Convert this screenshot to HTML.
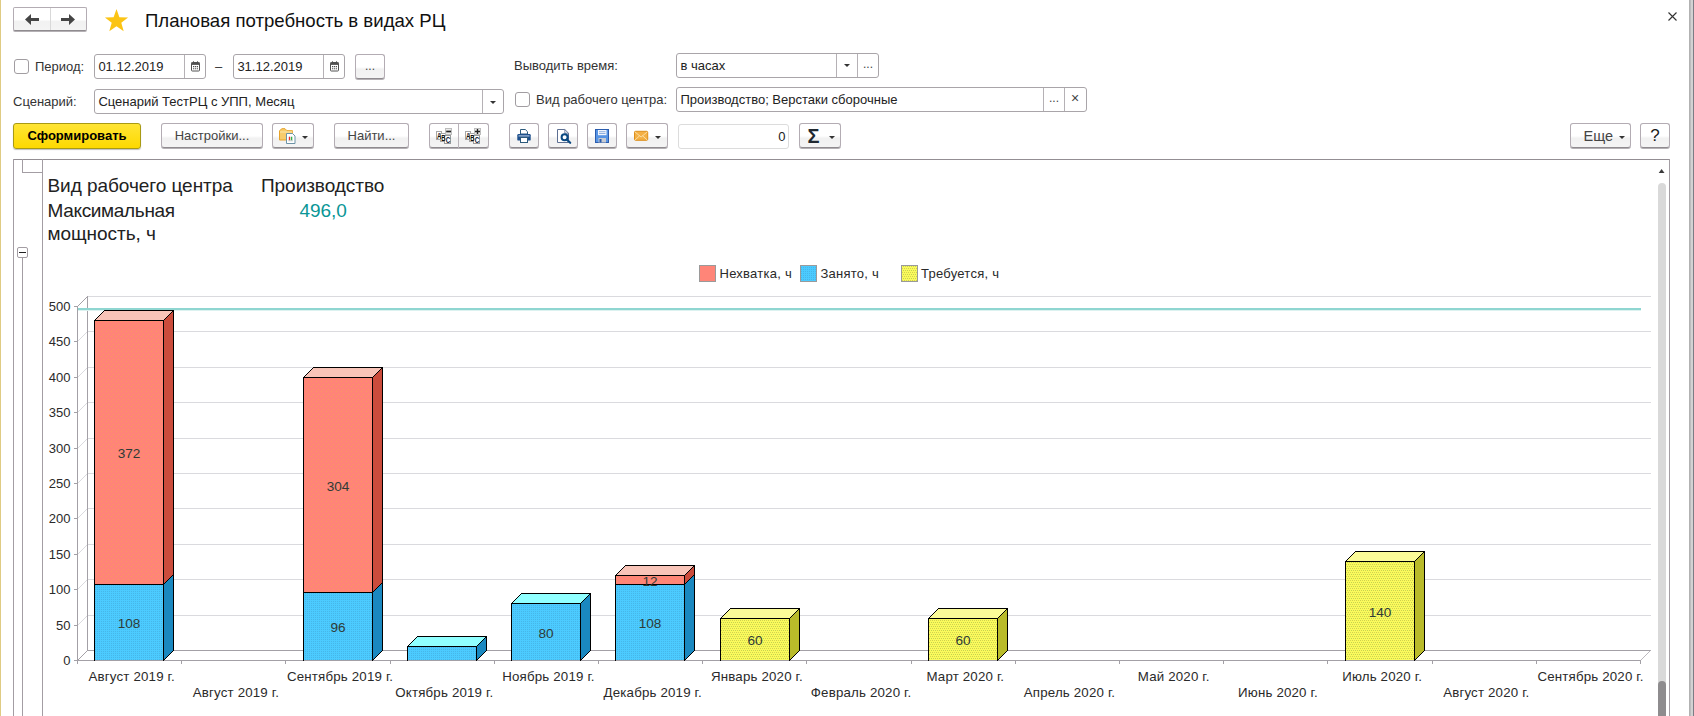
<!DOCTYPE html>
<html lang="ru"><head><meta charset="utf-8"><title>Плановая потребность в видах РЦ</title>
<style>
html,body{margin:0;padding:0;background:#fff;}
body{width:1694px;height:716px;position:relative;overflow:hidden;font-family:"Liberation Sans", sans-serif;font-size:13px;color:#333;}
.a{position:absolute;white-space:nowrap;}
.btn{position:absolute;box-sizing:border-box;height:25px;border:1px solid #b3acb3;border-bottom:1px solid #8f8b8f;box-shadow:0 1px 0 #b4b0b4;border-radius:3px;
 background:linear-gradient(#fff 0%,#fff 52%,#f1f1f1 62%,#f4f4f4 100%);color:#444;text-align:center;line-height:24px;white-space:nowrap;}
.inp{position:absolute;box-sizing:border-box;height:24px;border:1px solid #a9a5a9;border-radius:3px;background:#fff;line-height:22px;padding-left:3.4px;color:#222;white-space:nowrap;}
.dv{position:absolute;top:0;bottom:0;width:1px;background:#b5b1b5;}
.cb{position:absolute;box-sizing:border-box;width:15px;height:15px;border:1px solid #a19da1;border-radius:3px;background:#fff;}
.lbl{position:absolute;white-space:nowrap;color:#333;line-height:16px;}
.tri{position:absolute;width:0;height:0;border-left:3px solid transparent;border-right:3px solid transparent;border-top:3.4px solid #333;}
svg text{font-family:"Liberation Sans", sans-serif;}
.yl,.cl,.lg{font-size:13px;fill:#2a2a2a;}
.lg{letter-spacing:0.25px;}
.cl{font-size:13.3px;letter-spacing:0.17px;}
.dl{font-size:13.6px;fill:#2e3a36;}
.hd{position:absolute;font-size:19px;line-height:24px;color:#222;white-space:nowrap;letter-spacing:-0.05px;}
</style></head><body>
<!-- window edges -->
<div class="a" style="left:0;top:0;width:1px;height:716px;background:#dfcb83;"></div>
<div class="a" style="left:1689px;top:0;width:5px;height:716px;background:#d2d2d2;"></div>
<div class="a" style="left:1689px;top:0;width:1px;height:716px;background:#b2b2b2;"></div>
<div class="a" style="left:1690px;top:0;width:1px;height:716px;background:#bcbcbe;"></div>
<div class="a" style="left:1693px;top:0;width:1px;height:716px;background:#7c7c84;"></div>

<!-- nav buttons -->
<div class="btn" style="left:13px;top:7px;width:74px;height:24px;border-radius:2px;"></div>
<div class="a" style="left:50px;top:8px;width:1px;height:22px;background:#d8d8d8;"></div>
<svg class="a" style="left:0px;top:0px" width="100" height="40" viewBox="0 0 100 40">
 <path d="M25 19.5L31 14V18H39V21H31V25Z" fill="#454545"/>
 <path d="M75 19.5L69 14V18H61V21H69V25Z" fill="#454545"/>
</svg>
<!-- star -->
<svg class="a" style="left:0px;top:0px" width="140" height="40" viewBox="0 0 140 40">
 <polygon points="116.5,9.1 119.4,17.3 128.1,17.5 121.3,22.8 123.7,31.2 116.5,26.3 109.3,31.2 111.7,22.8 104.9,17.5 113.6,17.3" fill="#fbc414"/>
</svg>
<div class="a" style="left:145px;top:9px;font-size:18.6px;line-height:24px;color:#111;">Плановая потребность в видах РЦ</div>
<svg class="a" style="left:1668px;top:12px" width="9" height="9" viewBox="0 0 9 9"><path d="M0.5 0.5L8.5 8.5M8.5 0.5L0.5 8.5" stroke="#333" stroke-width="1.1" fill="none"/></svg>

<!-- row 1 -->
<div class="cb" style="left:14px;top:59px;"></div>
<div class="lbl" style="left:35px;top:59px;">Период:</div>
<div class="inp" style="left:94px;top:54px;width:112px;height:25px;line-height:23px;">01.12.2019<div class="dv" style="left:89px"></div>
 <svg class="a" style="left:95.5px;top:6px" width="9" height="11" viewBox="0 0 9 11"><rect x="0.5" y="1.5" width="8" height="8.5" rx="0.8" fill="#fff" stroke="#505050"/><rect x="0.5" y="1.5" width="8" height="2.4" fill="#505050"/><path d="M2.5 0.3v1.500M6.500 0.3v1.500" stroke="#505050"/><path d="M2 5.600h1.200M3.900 5.600h1.200M5.800 5.600h1.200M2 7.700h1.200M3.900 7.700h1.200M5.800 7.700h1.200" stroke="#505050" stroke-width="1.100"/></svg>
</div>
<div class="lbl" style="left:215px;top:59px;">–</div>
<div class="inp" style="left:233px;top:54px;width:112px;height:25px;line-height:23px;">31.12.2019<div class="dv" style="left:89px"></div>
 <svg class="a" style="left:95.5px;top:6px" width="9" height="11" viewBox="0 0 9 11"><rect x="0.5" y="1.5" width="8" height="8.5" rx="0.8" fill="#fff" stroke="#505050"/><rect x="0.5" y="1.5" width="8" height="2.4" fill="#505050"/><path d="M2.5 0.3v1.500M6.500 0.3v1.500" stroke="#505050"/><path d="M2 5.600h1.200M3.900 5.600h1.200M5.800 5.600h1.200M2 7.700h1.200M3.900 7.700h1.200M5.800 7.700h1.200" stroke="#505050" stroke-width="1.100"/></svg>
</div>
<div class="btn" style="left:355px;top:53.5px;width:30px;height:25px;line-height:22px;font-size:12px;">...</div>
<div class="lbl" style="left:514px;top:58px;">Выводить время:</div>
<div class="inp" style="left:676px;top:53px;width:203px;height:25px;line-height:23px;">в часах<div class="dv" style="left:159px"></div><div class="dv" style="left:180px"></div>
 <div class="tri" style="left:166.5px;top:10px;border-left-width:3px;border-right-width:3px;border-top-width:3.5px;"></div>
 <div class="a" style="left:186px;top:-1px;font-size:12px;color:#444;">...</div>
</div>

<!-- row 2 -->
<div class="lbl" style="left:13px;top:94px;">Сценарий:</div>
<div class="inp" style="left:94px;top:89px;width:410px;height:25px;line-height:23px;">Сценарий ТестРЦ с УПП, Месяц<div class="dv" style="left:387px"></div>
 <div class="tri" style="left:395px;top:11px;border-left-width:3px;border-right-width:3px;border-top-width:3.5px;"></div>
</div>
<div class="cb" style="left:515px;top:92px;"></div>
<div class="lbl" style="left:536px;top:92px;">Вид рабочего центра:</div>
<div class="inp" style="left:676px;top:87px;width:411px;height:25px;line-height:23px;">Производство; Верстаки сборочные<div class="dv" style="left:366px"></div><div class="dv" style="left:387px"></div>
 <div class="a" style="left:372px;top:-1px;font-size:12px;color:#444;">...</div>
 <div class="a" style="left:394px;top:-1px;font-size:14px;color:#444;">×</div>
</div>

<!-- row 3 toolbar -->
<div class="btn" style="left:13px;top:123px;width:128px;height:26px;border:1px solid #a89a14;border-radius:3px;background:linear-gradient(#ffe535,#fdd900);color:#000;font-weight:bold;line-height:24px;box-shadow:0 1px 1px rgba(0,0,0,.25);">Сформировать</div>
<div class="btn" style="left:161px;top:123px;width:102px;">Настройки...</div>
<div class="btn" style="left:272px;top:123px;width:42px;"></div>
<div class="btn" style="left:334px;top:123px;width:75px;">Найти...</div>
<div class="btn" style="left:429px;top:123px;width:60px;"></div>
<div class="a" style="left:458px;top:124px;width:1px;height:24px;background:#b9b3b9;"></div>
<div class="btn" style="left:509px;top:123px;width:30px;"></div>
<div class="btn" style="left:548px;top:123px;width:30px;"></div>
<div class="btn" style="left:587px;top:123px;width:30px;"></div>
<div class="btn" style="left:626px;top:123px;width:42px;"></div>
<div class="inp" style="left:678px;top:124px;width:111px;height:25px;border-color:#dcdcdc;text-align:right;padding-right:2.5px;line-height:24px;">0</div>
<div class="btn" style="left:799px;top:123px;width:42px;"></div>
<div class="btn" style="left:1570px;top:123px;width:61px;font-size:14.5px;text-align:left;padding-left:12.6px;line-height:24px;">Еще</div>
<div class="btn" style="left:1640px;top:123px;width:30px;font-size:17px;color:#1a1a1a;line-height:24px;">?</div>
<div class="tri" style="left:301.6px;top:135.7px;"></div>
<div class="tri" style="left:655.4px;top:135.7px;"></div>
<div class="tri" style="left:828.7px;top:135.7px;"></div>
<div class="tri" style="left:1619px;top:135.7px;"></div>

<!-- toolbar icons -->
<svg class="a" style="left:0;top:0" width="1694" height="160" viewBox="0 0 1694 160">
<!-- folder with report -->
<path d="M279.500 140v-9.300l2.500-2h3l2 2h5.500v9.300z" fill="#f8cc6c" stroke="#e6a228" stroke-width="1"/>
<path d="M280 132h12.500" stroke="#fbe3a4" stroke-width="1.200"/>
<path d="M286.500 133.500h6l2.500 2.500v7.500h-8.500z" fill="#fff" stroke="#6c93a6" stroke-width="1"/>
<path d="M289.500 140.300v-3.600" stroke="#e8302c" stroke-width="1.400"/>
<path d="M291.600 140.300v-3.600" stroke="#34b24a" stroke-width="1.400"/>
<path d="M288.300 140.800h4.600" stroke="#9aa" stroke-width="0.6"/>
<g>
 <rect x="436.5" y="131.500" width="5" height="8" fill="#fff" stroke="#a6a6a6" stroke-width="1"/>
 <rect x="440.5" y="133.500" width="5" height="8" fill="#fff" stroke="#a6a6a6" stroke-width="1"/>
 <rect x="444.5" y="135.500" width="6" height="8" fill="#fff" stroke="#9a9a9a" stroke-width="1"/>
 <rect x="445.5" y="128.500" width="6" height="6" fill="#ececec" stroke="#bdbdbd" stroke-width="1"/>
 <text x="436.9" y="139" font-size="9.2" font-weight="bold" fill="#111" textLength="4.300" lengthAdjust="spacingAndGlyphs">A</text>
 <text x="441.2" y="141" font-size="9.2" font-weight="bold" fill="#111" textLength="4.300" lengthAdjust="spacingAndGlyphs">B</text>
 <text x="445.7" y="143" font-size="9.2" font-weight="bold" fill="#0c1230" textLength="4.500" lengthAdjust="spacingAndGlyphs">C</text>
 <path d="M446.2 131.500h4.800" stroke="#222" stroke-width="1.700" fill="none"/>
</g>
<g>
 <rect x="465.5" y="131.500" width="5" height="8" fill="#fff" stroke="#a6a6a6" stroke-width="1"/>
 <rect x="469.5" y="133.500" width="5" height="8" fill="#fff" stroke="#a6a6a6" stroke-width="1"/>
 <rect x="473.5" y="135.500" width="6" height="8" fill="#fff" stroke="#9a9a9a" stroke-width="1"/>
 <rect x="474.5" y="128.500" width="6" height="6" fill="#ececec" stroke="#bdbdbd" stroke-width="1"/>
 <text x="465.9" y="139" font-size="9.2" font-weight="bold" fill="#111" textLength="4.300" lengthAdjust="spacingAndGlyphs">A</text>
 <text x="470.2" y="141" font-size="9.2" font-weight="bold" fill="#111" textLength="4.300" lengthAdjust="spacingAndGlyphs">B</text>
 <text x="474.7" y="143" font-size="9.2" font-weight="bold" fill="#0c1230" textLength="4.500" lengthAdjust="spacingAndGlyphs">C</text>
 <path d="M475 131.500h5M477.5 129v5" stroke="#222" stroke-width="1.400" fill="none"/>
</g>

<!-- printer -->
<path d="M520.500 134v-4.500h4.800l2.200 2.200v2.300z" fill="#fff" stroke="#2c5a7c" stroke-width="1"/>
<rect x="517.300" y="134" width="13.400" height="6.600" rx="1.200" fill="#1d4f8c"/>
<rect x="518.500" y="135.300" width="11" height="1.200" fill="#a9c0dc"/>
<rect x="520.500" y="137.500" width="7" height="5" fill="#fff" stroke="#2c5a7c" stroke-width="1"/>
<!-- preview -->
<path d="M557.500 129.500h7.300l3.700 3.700v9.300h-11z" fill="#fff" stroke="#5d6f92" stroke-width="1"/>
<path d="M564.800 129.500v3.700h3.700" fill="none" stroke="#5d6f92" stroke-width="0.8"/>
<circle cx="564.600" cy="137.200" r="3" fill="#fff" stroke="#0b4a82" stroke-width="2"/>
<path d="M566.800 139.600l3.400 3.200" stroke="#0b4a82" stroke-width="2.200" stroke-linecap="round"/>
<!-- save -->
<rect x="595.500" y="129.500" width="13" height="13" fill="#5794e4" stroke="#2b5cad" stroke-width="1"/>
<rect x="598" y="130" width="8.500" height="5.200" fill="#f2f6fc"/>
<path d="M599 131.700h6.500M599 133.500h6.500" stroke="#86a8dc" stroke-width="0.9"/>
<rect x="598.500" y="138" width="7.500" height="4.500" fill="#c9ccd2"/>
<rect x="599.500" y="139" width="2" height="3.500" fill="#2b5cad"/>
<!-- mail -->
<rect x="634.500" y="131.300" width="13.200" height="9" rx="1" fill="#f4b044" stroke="#dc8f1c" stroke-width="1"/>
<path d="M635 132l6.100 5l6.100-5M635 140l4.700-4.300M647.200 140l-4.700-4.300" fill="none" stroke="#fbe2ae" stroke-width="0.9"/>
</svg>
<div class="a" style="left:807.500px;top:124px;font-size:20px;line-height:24px;color:#202830;font-weight:bold;">Σ</div>

<!-- report frame -->
<div class="a" style="left:13px;top:159px;width:1657px;height:1px;background:#938e93;"></div>
<div class="a" style="left:13px;top:159px;width:1px;height:560px;background:#a39da3;"></div>
<div class="a" style="left:1669px;top:159px;width:1px;height:560px;background:#a39da3;"></div>
<div class="a" style="left:22px;top:159px;width:1px;height:14px;background:#a39da3;"></div>
<div class="a" style="left:22px;top:172px;width:21px;height:1px;background:#a39da3;"></div>
<div class="a" style="left:42px;top:159px;width:1px;height:560px;background:#a39da3;"></div>
<div class="a" style="left:22px;top:257px;width:1px;height:460px;background:#a39da3;"></div>
<div class="a" style="left:17px;top:247px;width:11px;height:11px;box-sizing:border-box;border:1px solid #a39da3;border-radius:2px;background:#fff;"></div>
<div class="a" style="left:19px;top:251.500px;width:7px;height:1.500px;background:#222;"></div>

<!-- scrollbar -->
<svg class="a" style="left:1657px;top:166px" width="10" height="9" viewBox="0 0 10 9"><path d="M1.700 7L4.600 2.900L7.500 7z" fill="#3a3a3a"/></svg>
<div class="a" style="left:1658px;top:183px;width:8px;height:540px;border-radius:4px;background:#d9d9d9;"></div>
<div class="a" style="left:1658px;top:681px;width:8px;height:60px;border-radius:4px;background:#8e8c8e;"></div>

<!-- header text -->
<div class="hd" style="left:47.500px;top:173.7px;">Вид рабочего центра</div>
<div class="hd" style="left:47.500px;top:199px;letter-spacing:-0.33px;">Максимальная</div>
<div class="hd" style="left:47.500px;top:222.2px;">мощность, ч</div>
<div class="hd" style="left:261px;top:173.7px;">Производство</div>
<div class="hd" style="left:299.500px;top:199px;color:#0a9696;">496,0</div>

<!-- chart -->
<svg class="a" style="left:0;top:0" width="1694" height="716" viewBox="0 0 1694 716" shape-rendering="crispEdges">
<defs>
<pattern id="pb" width="2" height="2" patternUnits="userSpaceOnUse"><rect width="2" height="2" fill="#4ccbff"/><rect x="1" y="1" width="1" height="1" fill="#46b6e8"/></pattern>
<pattern id="pr" width="5" height="5" patternUnits="userSpaceOnUse"><rect width="5" height="5" fill="#ff8478"/><rect x="1" y="1" width="1" height="1" fill="#f79a5e"/><rect x="3" y="4" width="1" height="1" fill="#f79a5e"/></pattern>
<pattern id="py" width="4" height="4" patternUnits="userSpaceOnUse"><rect width="4" height="4" fill="#fafa5c"/><rect x="0" y="0" width="1" height="1" fill="#cfcf4e"/><rect x="2" y="0" width="1" height="1" fill="#d6d650"/><rect x="1" y="2" width="1" height="1" fill="#cfcf4e"/><rect x="3" y="2" width="1" height="1" fill="#bfd352"/></pattern>
</defs>
<line x1="77.5" y1="660.5" x2="87.5" y2="650.5" stroke="#a3a0a6" shape-rendering="auto"/>
<line x1="87.0" y1="650.5" x2="1651.0" y2="650.5" stroke="#a3a0a6"/>
<line x1="74.0" y1="660.5" x2="78.0" y2="660.5" stroke="#a3a0a6"/>
<text x="70.5" y="664.8" text-anchor="end" class="yl">0</text>
<line x1="77.5" y1="625.5" x2="87.5" y2="615.5" stroke="#dadade" shape-rendering="auto"/>
<line x1="87.0" y1="615.5" x2="1651.0" y2="615.5" stroke="#dadade"/>
<line x1="74.0" y1="625.5" x2="78.0" y2="625.5" stroke="#a3a0a6"/>
<text x="70.5" y="629.8" text-anchor="end" class="yl">50</text>
<line x1="77.5" y1="589.5" x2="87.5" y2="579.5" stroke="#dadade" shape-rendering="auto"/>
<line x1="87.0" y1="579.5" x2="1651.0" y2="579.5" stroke="#dadade"/>
<line x1="74.0" y1="589.5" x2="78.0" y2="589.5" stroke="#a3a0a6"/>
<text x="70.5" y="593.8" text-anchor="end" class="yl">100</text>
<line x1="77.5" y1="554.5" x2="87.5" y2="544.5" stroke="#dadade" shape-rendering="auto"/>
<line x1="87.0" y1="544.5" x2="1651.0" y2="544.5" stroke="#dadade"/>
<line x1="74.0" y1="554.5" x2="78.0" y2="554.5" stroke="#a3a0a6"/>
<text x="70.5" y="558.8" text-anchor="end" class="yl">150</text>
<line x1="77.5" y1="518.5" x2="87.5" y2="508.5" stroke="#dadade" shape-rendering="auto"/>
<line x1="87.0" y1="508.5" x2="1651.0" y2="508.5" stroke="#dadade"/>
<line x1="74.0" y1="518.5" x2="78.0" y2="518.5" stroke="#a3a0a6"/>
<text x="70.5" y="522.8" text-anchor="end" class="yl">200</text>
<line x1="77.5" y1="483.5" x2="87.5" y2="473.5" stroke="#dadade" shape-rendering="auto"/>
<line x1="87.0" y1="473.5" x2="1651.0" y2="473.5" stroke="#dadade"/>
<line x1="74.0" y1="483.5" x2="78.0" y2="483.5" stroke="#a3a0a6"/>
<text x="70.5" y="487.8" text-anchor="end" class="yl">250</text>
<line x1="77.5" y1="448.5" x2="87.5" y2="438.5" stroke="#dadade" shape-rendering="auto"/>
<line x1="87.0" y1="438.5" x2="1651.0" y2="438.5" stroke="#dadade"/>
<line x1="74.0" y1="448.5" x2="78.0" y2="448.5" stroke="#a3a0a6"/>
<text x="70.5" y="452.8" text-anchor="end" class="yl">300</text>
<line x1="77.5" y1="412.5" x2="87.5" y2="402.5" stroke="#dadade" shape-rendering="auto"/>
<line x1="87.0" y1="402.5" x2="1651.0" y2="402.5" stroke="#dadade"/>
<line x1="74.0" y1="412.5" x2="78.0" y2="412.5" stroke="#a3a0a6"/>
<text x="70.5" y="416.8" text-anchor="end" class="yl">350</text>
<line x1="77.5" y1="377.5" x2="87.5" y2="367.5" stroke="#dadade" shape-rendering="auto"/>
<line x1="87.0" y1="367.5" x2="1651.0" y2="367.5" stroke="#dadade"/>
<line x1="74.0" y1="377.5" x2="78.0" y2="377.5" stroke="#a3a0a6"/>
<text x="70.5" y="381.8" text-anchor="end" class="yl">400</text>
<line x1="77.5" y1="341.5" x2="87.5" y2="331.5" stroke="#dadade" shape-rendering="auto"/>
<line x1="87.0" y1="331.5" x2="1651.0" y2="331.5" stroke="#dadade"/>
<line x1="74.0" y1="341.5" x2="78.0" y2="341.5" stroke="#a3a0a6"/>
<text x="70.5" y="345.8" text-anchor="end" class="yl">450</text>
<line x1="77.5" y1="306.5" x2="87.5" y2="296.5" stroke="#a3a0a6" shape-rendering="auto"/>
<line x1="87.0" y1="296.5" x2="1651.0" y2="296.5" stroke="#dadade"/>
<line x1="74.0" y1="306.5" x2="78.0" y2="306.5" stroke="#a3a0a6"/>
<text x="70.5" y="310.8" text-anchor="end" class="yl">500</text>
<line x1="87.5" y1="296.0" x2="87.5" y2="651.0" stroke="#a3a0a6"/>
<line x1="77.5" y1="306.0" x2="77.5" y2="664.0" stroke="#a3a0a6"/>
<line x1="74.0" y1="660.5" x2="1641.0" y2="660.5" stroke="#a3a0a6"/>
<line x1="1640.5" y1="660.5" x2="1650.5" y2="650.5" stroke="#bcb9be" shape-rendering="auto"/>
<line x1="77.5" y1="660.0" x2="77.5" y2="664.0" stroke="#a3a0a6"/>
<line x1="181.5" y1="660.0" x2="181.5" y2="664.0" stroke="#a3a0a6"/>
<line x1="285.5" y1="660.0" x2="285.5" y2="664.0" stroke="#a3a0a6"/>
<line x1="390.5" y1="660.0" x2="390.5" y2="664.0" stroke="#a3a0a6"/>
<line x1="494.5" y1="660.0" x2="494.5" y2="664.0" stroke="#a3a0a6"/>
<line x1="598.5" y1="660.0" x2="598.5" y2="664.0" stroke="#a3a0a6"/>
<line x1="702.5" y1="660.0" x2="702.5" y2="664.0" stroke="#a3a0a6"/>
<line x1="806.5" y1="660.0" x2="806.5" y2="664.0" stroke="#a3a0a6"/>
<line x1="911.5" y1="660.0" x2="911.5" y2="664.0" stroke="#a3a0a6"/>
<line x1="1015.5" y1="660.0" x2="1015.5" y2="664.0" stroke="#a3a0a6"/>
<line x1="1119.5" y1="660.0" x2="1119.5" y2="664.0" stroke="#a3a0a6"/>
<line x1="1223.5" y1="660.0" x2="1223.5" y2="664.0" stroke="#a3a0a6"/>
<line x1="1327.5" y1="660.0" x2="1327.5" y2="664.0" stroke="#a3a0a6"/>
<line x1="1432.5" y1="660.0" x2="1432.5" y2="664.0" stroke="#a3a0a6"/>
<line x1="1536.5" y1="660.0" x2="1536.5" y2="664.0" stroke="#a3a0a6"/>
<line x1="1640.5" y1="660.0" x2="1640.5" y2="664.0" stroke="#a3a0a6"/>
<rect x="78.0" y="308" width="1563.0" height="2" fill="#8fd6d1"/>
<rect x="78.0" y="310" width="1563.0" height="1" fill="#dcf2f0"/>
<polygon points="163.5,584.5 173.5,574.5 173.5,650.5 163.5,660.5" fill="#1a88c0" stroke="#000" stroke-width="1" shape-rendering="crispEdges" stroke-linejoin="round"/>
<rect x="94.5" y="584.5" width="69.0" height="76" fill="url(#pb)" stroke="#000"/>
<text x="129.0" y="628.0" text-anchor="middle" class="dl">108</text>
<polygon points="163.5,320.5 173.5,310.5 173.5,574.5 163.5,584.5" fill="#cb4c3c" stroke="#000" stroke-width="1" shape-rendering="crispEdges" stroke-linejoin="round"/>
<rect x="94.5" y="320.5" width="69.0" height="264" fill="url(#pr)" stroke="#000"/>
<polygon points="94.5,320.5 104.5,310.5 173.5,310.5 163.5,320.5" fill="#f8c4b8" stroke="#000" stroke-width="1" shape-rendering="crispEdges" stroke-linejoin="round"/>
<text x="129.0" y="458.0" text-anchor="middle" class="dl">372</text>
<line x1="95" y1="660.5" x2="163.0" y2="660.5" stroke="#a3a0a6"/>
<polygon points="372.5,592.5 382.5,582.5 382.5,650.5 372.5,660.5" fill="#1a88c0" stroke="#000" stroke-width="1" shape-rendering="crispEdges" stroke-linejoin="round"/>
<rect x="303.5" y="592.5" width="69.0" height="68" fill="url(#pb)" stroke="#000"/>
<text x="338.0" y="632.0" text-anchor="middle" class="dl">96</text>
<polygon points="372.5,377.5 382.5,367.5 382.5,582.5 372.5,592.5" fill="#cb4c3c" stroke="#000" stroke-width="1" shape-rendering="crispEdges" stroke-linejoin="round"/>
<rect x="303.5" y="377.5" width="69.0" height="215" fill="url(#pr)" stroke="#000"/>
<polygon points="303.5,377.5 313.5,367.5 382.5,367.5 372.5,377.5" fill="#f8c4b8" stroke="#000" stroke-width="1" shape-rendering="crispEdges" stroke-linejoin="round"/>
<text x="338.0" y="490.5" text-anchor="middle" class="dl">304</text>
<line x1="304" y1="660.5" x2="372.0" y2="660.5" stroke="#a3a0a6"/>
<polygon points="476.5,646.5 486.5,636.5 486.5,650.5 476.5,660.5" fill="#1a88c0" stroke="#000" stroke-width="1" shape-rendering="crispEdges" stroke-linejoin="round"/>
<rect x="407.5" y="646.5" width="69.0" height="14" fill="url(#pb)" stroke="#000"/>
<polygon points="407.5,646.5 417.5,636.5 486.5,636.5 476.5,646.5" fill="#90ffff" stroke="#000" stroke-width="1" shape-rendering="crispEdges" stroke-linejoin="round"/>
<line x1="408" y1="660.5" x2="476.0" y2="660.5" stroke="#a3a0a6"/>
<polygon points="580.5,603.5 590.5,593.5 590.5,650.5 580.5,660.5" fill="#1a88c0" stroke="#000" stroke-width="1" shape-rendering="crispEdges" stroke-linejoin="round"/>
<rect x="511.5" y="603.5" width="69.0" height="57" fill="url(#pb)" stroke="#000"/>
<polygon points="511.5,603.5 521.5,593.5 590.5,593.5 580.5,603.5" fill="#90ffff" stroke="#000" stroke-width="1" shape-rendering="crispEdges" stroke-linejoin="round"/>
<text x="546.0" y="637.5" text-anchor="middle" class="dl">80</text>
<line x1="512" y1="660.5" x2="580.0" y2="660.5" stroke="#a3a0a6"/>
<polygon points="684.5,584.5 694.5,574.5 694.5,650.5 684.5,660.5" fill="#1a88c0" stroke="#000" stroke-width="1" shape-rendering="crispEdges" stroke-linejoin="round"/>
<rect x="615.5" y="584.5" width="69.0" height="76" fill="url(#pb)" stroke="#000"/>
<text x="650.0" y="628.0" text-anchor="middle" class="dl">108</text>
<polygon points="684.5,575.5 694.5,565.5 694.5,574.5 684.5,584.5" fill="#cb4c3c" stroke="#000" stroke-width="1" shape-rendering="crispEdges" stroke-linejoin="round"/>
<rect x="615.5" y="575.5" width="69.0" height="9" fill="url(#pr)" stroke="#000"/>
<polygon points="615.5,575.5 625.5,565.5 694.5,565.5 684.5,575.5" fill="#f8c4b8" stroke="#000" stroke-width="1" shape-rendering="crispEdges" stroke-linejoin="round"/>
<text x="650.0" y="585.5" text-anchor="middle" class="dl">12</text>
<line x1="616" y1="660.5" x2="684.0" y2="660.5" stroke="#a3a0a6"/>
<polygon points="789.5,618.5 799.5,608.5 799.5,650.5 789.5,660.5" fill="#b9bb2a" stroke="#000" stroke-width="1" shape-rendering="crispEdges" stroke-linejoin="round"/>
<rect x="720.5" y="618.5" width="69.0" height="42" fill="url(#py)" stroke="#000"/>
<polygon points="720.5,618.5 730.5,608.5 799.5,608.5 789.5,618.5" fill="#fbfb98" stroke="#000" stroke-width="1" shape-rendering="crispEdges" stroke-linejoin="round"/>
<text x="755.0" y="645.0" text-anchor="middle" class="dl">60</text>
<line x1="721" y1="660.5" x2="789.0" y2="660.5" stroke="#a3a0a6"/>
<polygon points="997.5,618.5 1007.5,608.5 1007.5,650.5 997.5,660.5" fill="#b9bb2a" stroke="#000" stroke-width="1" shape-rendering="crispEdges" stroke-linejoin="round"/>
<rect x="928.5" y="618.5" width="69.0" height="42" fill="url(#py)" stroke="#000"/>
<polygon points="928.5,618.5 938.5,608.5 1007.5,608.5 997.5,618.5" fill="#fbfb98" stroke="#000" stroke-width="1" shape-rendering="crispEdges" stroke-linejoin="round"/>
<text x="963.0" y="645.0" text-anchor="middle" class="dl">60</text>
<line x1="929" y1="660.5" x2="997.0" y2="660.5" stroke="#a3a0a6"/>
<polygon points="1414.5,561.5 1424.5,551.5 1424.5,650.5 1414.5,660.5" fill="#b9bb2a" stroke="#000" stroke-width="1" shape-rendering="crispEdges" stroke-linejoin="round"/>
<rect x="1345.5" y="561.5" width="69.0" height="99" fill="url(#py)" stroke="#000"/>
<polygon points="1345.5,561.5 1355.5,551.5 1424.5,551.5 1414.5,561.5" fill="#fbfb98" stroke="#000" stroke-width="1" shape-rendering="crispEdges" stroke-linejoin="round"/>
<text x="1380.0" y="616.5" text-anchor="middle" class="dl">140</text>
<line x1="1346" y1="660.5" x2="1414.0" y2="660.5" stroke="#a3a0a6"/>
<text x="131.7" y="681" text-anchor="middle" class="cl">Август 2019 г.</text>
<text x="235.9" y="697" text-anchor="middle" class="cl">Август 2019 г.</text>
<text x="340.1" y="681" text-anchor="middle" class="cl">Сентябрь 2019 г.</text>
<text x="444.3" y="697" text-anchor="middle" class="cl">Октябрь 2019 г.</text>
<text x="548.5" y="681" text-anchor="middle" class="cl">Ноябрь 2019 г.</text>
<text x="652.7" y="697" text-anchor="middle" class="cl">Декабрь 2019 г.</text>
<text x="756.9" y="681" text-anchor="middle" class="cl">Январь 2020 г.</text>
<text x="861.1" y="697" text-anchor="middle" class="cl">Февраль 2020 г.</text>
<text x="965.3" y="681" text-anchor="middle" class="cl">Март 2020 г.</text>
<text x="1069.5" y="697" text-anchor="middle" class="cl">Апрель 2020 г.</text>
<text x="1173.7" y="681" text-anchor="middle" class="cl">Май 2020 г.</text>
<text x="1277.9" y="697" text-anchor="middle" class="cl">Июнь 2020 г.</text>
<text x="1382.1" y="681" text-anchor="middle" class="cl">Июль 2020 г.</text>
<text x="1486.3" y="697" text-anchor="middle" class="cl">Август 2020 г.</text>
<text x="1590.5" y="681" text-anchor="middle" class="cl">Сентябрь 2020 г.</text>
<rect x="699.5" y="265.5" width="16" height="16" fill="#ff8578" stroke="#9a9a9a"/>
<text x="719.5" y="278" class="lg">Нехватка, ч</text>
<rect x="800.5" y="265.5" width="16" height="16" fill="url(#pb)" stroke="#9a9a9a"/>
<text x="820.5" y="278" class="lg">Занято, ч</text>
<rect x="901.5" y="265.5" width="16" height="16" fill="url(#py)" stroke="#9a9a9a"/>
<text x="921" y="278" class="lg">Требуется, ч</text>
</svg>
</body></html>
